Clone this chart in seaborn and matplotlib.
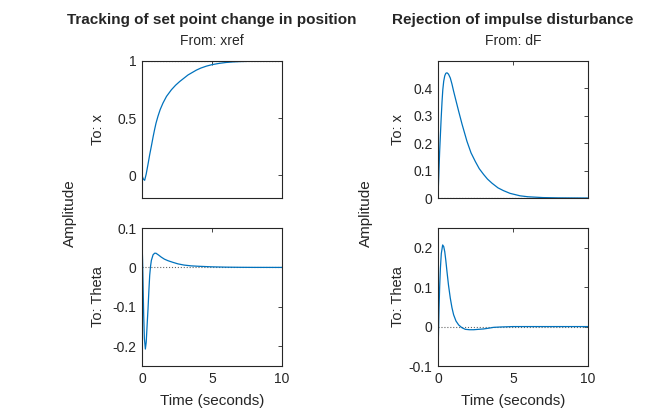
import matplotlib
matplotlib.use("Agg")
import matplotlib.pyplot as plt
import seaborn as sns
import pandas as pd
from matplotlib.ticker import FormatStrFormatter

# step response xref -> x
t_xref_x = [0.0, 0.05, 0.1, 0.19, 0.3, 0.43, 0.55, 0.67, 0.8, 0.9, 1.0, 1.14, 1.3, 1.5,
            1.75, 2.1, 2.4, 2.69, 3.0, 3.29, 3.6, 3.88, 4.2, 4.6, 5.0, 5.5, 6.0, 6.5,
            7.0, 8.0, 9.0, 10.0]
y_xref_x = [0.0, -0.02, -0.035, -0.045, 0.01, 0.096, 0.18, 0.255, 0.34, 0.40, 0.455, 0.516,
            0.575, 0.632, 0.69, 0.748, 0.788, 0.82, 0.85, 0.878, 0.9, 0.92, 0.938, 0.955,
            0.968, 0.979, 0.987, 0.992, 0.995, 0.998, 0.999, 1.0]

# step response xref -> theta
t_xref_th = [0.0, 0.04, 0.08, 0.12, 0.17, 0.24, 0.3, 0.36, 0.43, 0.49, 0.55, 0.61, 0.67,
             0.79, 0.9, 1.0, 1.2, 1.38, 1.6, 1.86, 2.2, 2.57, 3.0, 3.5, 4.0, 5.0, 6.0,
             7.0, 8.0, 10.0]
y_xref_th = [0.065, 0.02, -0.05, -0.12, -0.18, -0.207, -0.19, -0.15, -0.105, -0.06, -0.02,
             0.003, 0.018, 0.032, 0.036, 0.036, 0.031, 0.026, 0.021, 0.017, 0.013, 0.009,
             0.006, 0.004, 0.003, 0.0015, 0.0007, 0.0003, 0.0001, 0.0]

# impulse response dF -> x
t_dF_x = [0.0, 0.03, 0.07, 0.11, 0.16, 0.21, 0.27, 0.32, 0.38, 0.45, 0.52, 0.6, 0.7, 0.82,
          0.93, 1.04, 1.2, 1.38, 1.6, 1.93, 2.2, 2.49, 2.75, 3.04, 3.3, 3.6, 4.0, 4.36,
          4.8, 5.47, 6.0, 7.0, 8.0, 9.0, 10.0]
y_dF_x = [0.0, 0.05, 0.109, 0.17, 0.23, 0.29, 0.353, 0.395, 0.426, 0.446, 0.455, 0.457,
          0.452, 0.438, 0.416, 0.39, 0.355, 0.316, 0.27, 0.207, 0.165, 0.133, 0.107, 0.086,
          0.069, 0.054, 0.037, 0.027, 0.017, 0.008, 0.0045, 0.0015, 0.0005, 0.0002, 0.0]

# impulse response dF -> theta
t_dF_th = [0.0, 0.03, 0.07, 0.11, 0.16, 0.22, 0.31, 0.38, 0.45, 0.52, 0.6, 0.7, 0.82, 0.93,
           1.04, 1.2, 1.38, 1.6, 1.82, 2.1, 2.38, 2.7, 3.04, 3.4, 3.7, 4.2, 5.0, 6.0, 10.0]
y_dF_th = [-0.065, -0.02, 0.047, 0.1, 0.148, 0.185, 0.207, 0.203, 0.19, 0.168, 0.139, 0.105,
           0.072, 0.048, 0.03, 0.014, 0.004, -0.003, -0.007, -0.008, -0.008, -0.007, -0.006,
           -0.004, -0.002, -0.001, 0.0, 0.0, 0.0]

col_titles = ["Tracking of set point change in position", "Rejection of impulse disturbance"]
col_inputs = ["From: xref", "From: dF"]
row_outputs = ["To: x", "To: Theta"]

sns.set_theme(style="white")
plt.rcParams["font.family"] = ["Liberation Sans", "DejaVu Sans"]
plt.rcParams["axes.unicode_minus"] = False

line_color = "#0072BD"
axis_color = "#262626"

fig = plt.figure(figsize=(6.5, 4.2), dpi=100)

W, H = 650.0, 420.0
col_x = [(142, 282), (438, 588)]
row_y = [(61, 198), (228, 366)]
to_offset = [44, 40]

panels = [
    [(t_xref_x, y_xref_x, (-0.2, 1.0), [0, 0.5, 1], 1.0, "#333333"),
     (t_xref_th, y_xref_th, (-0.25, 0.1), [-0.2, -0.1, 0, 0.1], 0.0, "#666666")],
    [(t_dF_x, y_dF_x, (0, 0.5), [0, 0.1, 0.2, 0.3, 0.4], 0.0, "#333333"),
     (t_dF_th, y_dF_th, (-0.1, 0.25), [-0.1, 0, 0.1, 0.2], 0.0, "#666666")],
]

for c in range(2):
    x0, x1 = col_x[c]
    for r in range(2):
        y0, y1 = row_y[r]
        ax = fig.add_axes([x0 / W, 1 - y1 / H, (x1 - x0) / W, (y1 - y0) / H])
        t, y, ylim, yticks, ref, ref_col = panels[c][r]
        df = pd.DataFrame({"t": t, "y": y})
        ax.axhline(ref, color=ref_col, ls=":", lw=0.8, zorder=1)
        sns.lineplot(data=df, x="t", y="y", ax=ax, color=line_color, lw=0.9, zorder=2)
        ax.set_xlim(0, 10)
        ax.set_ylim(*ylim)
        ax.set_xticks([0, 5, 10])
        ax.set_yticks(yticks)
        ax.yaxis.set_major_formatter(FormatStrFormatter("%g"))
        ax.set_xlabel("")
        ax.set_ylabel("")
        ax.tick_params(direction="in", length=3, width=0.6, top=True, right=True,
                       labelsize=10, colors=axis_color, pad=4)
        if r == 0:
            ax.tick_params(labelbottom=False)
        for s in ax.spines.values():
            s.set_color(axis_color)
            s.set_linewidth(0.8)

        fig.text((x0 - to_offset[c]) / W, 1 - (y0 + y1) / 2 / H, row_outputs[r], rotation=90,
                 ha="center", va="center", fontsize=10.5, color=axis_color)

    xc = (x0 + x1) / 2 / W
    fig.text(xc, 1 - 20 / H, col_titles[c], ha="center", va="center",
             fontsize=11, fontweight="bold", color=axis_color)
    fig.text(xc, 1 - 41 / H, col_inputs[c], ha="center", va="center",
             fontsize=10, color=axis_color)
    fig.text(xc, 1 - 401 / H, "Time (seconds)", ha="center", va="center",
             fontsize=11, color=axis_color)
    fig.text((x0 - 72) / W, 1 - 213.5 / H, "Amplitude", rotation=90,
             ha="center", va="center", fontsize=11, color=axis_color)

fig.savefig("out.png", dpi=100)
